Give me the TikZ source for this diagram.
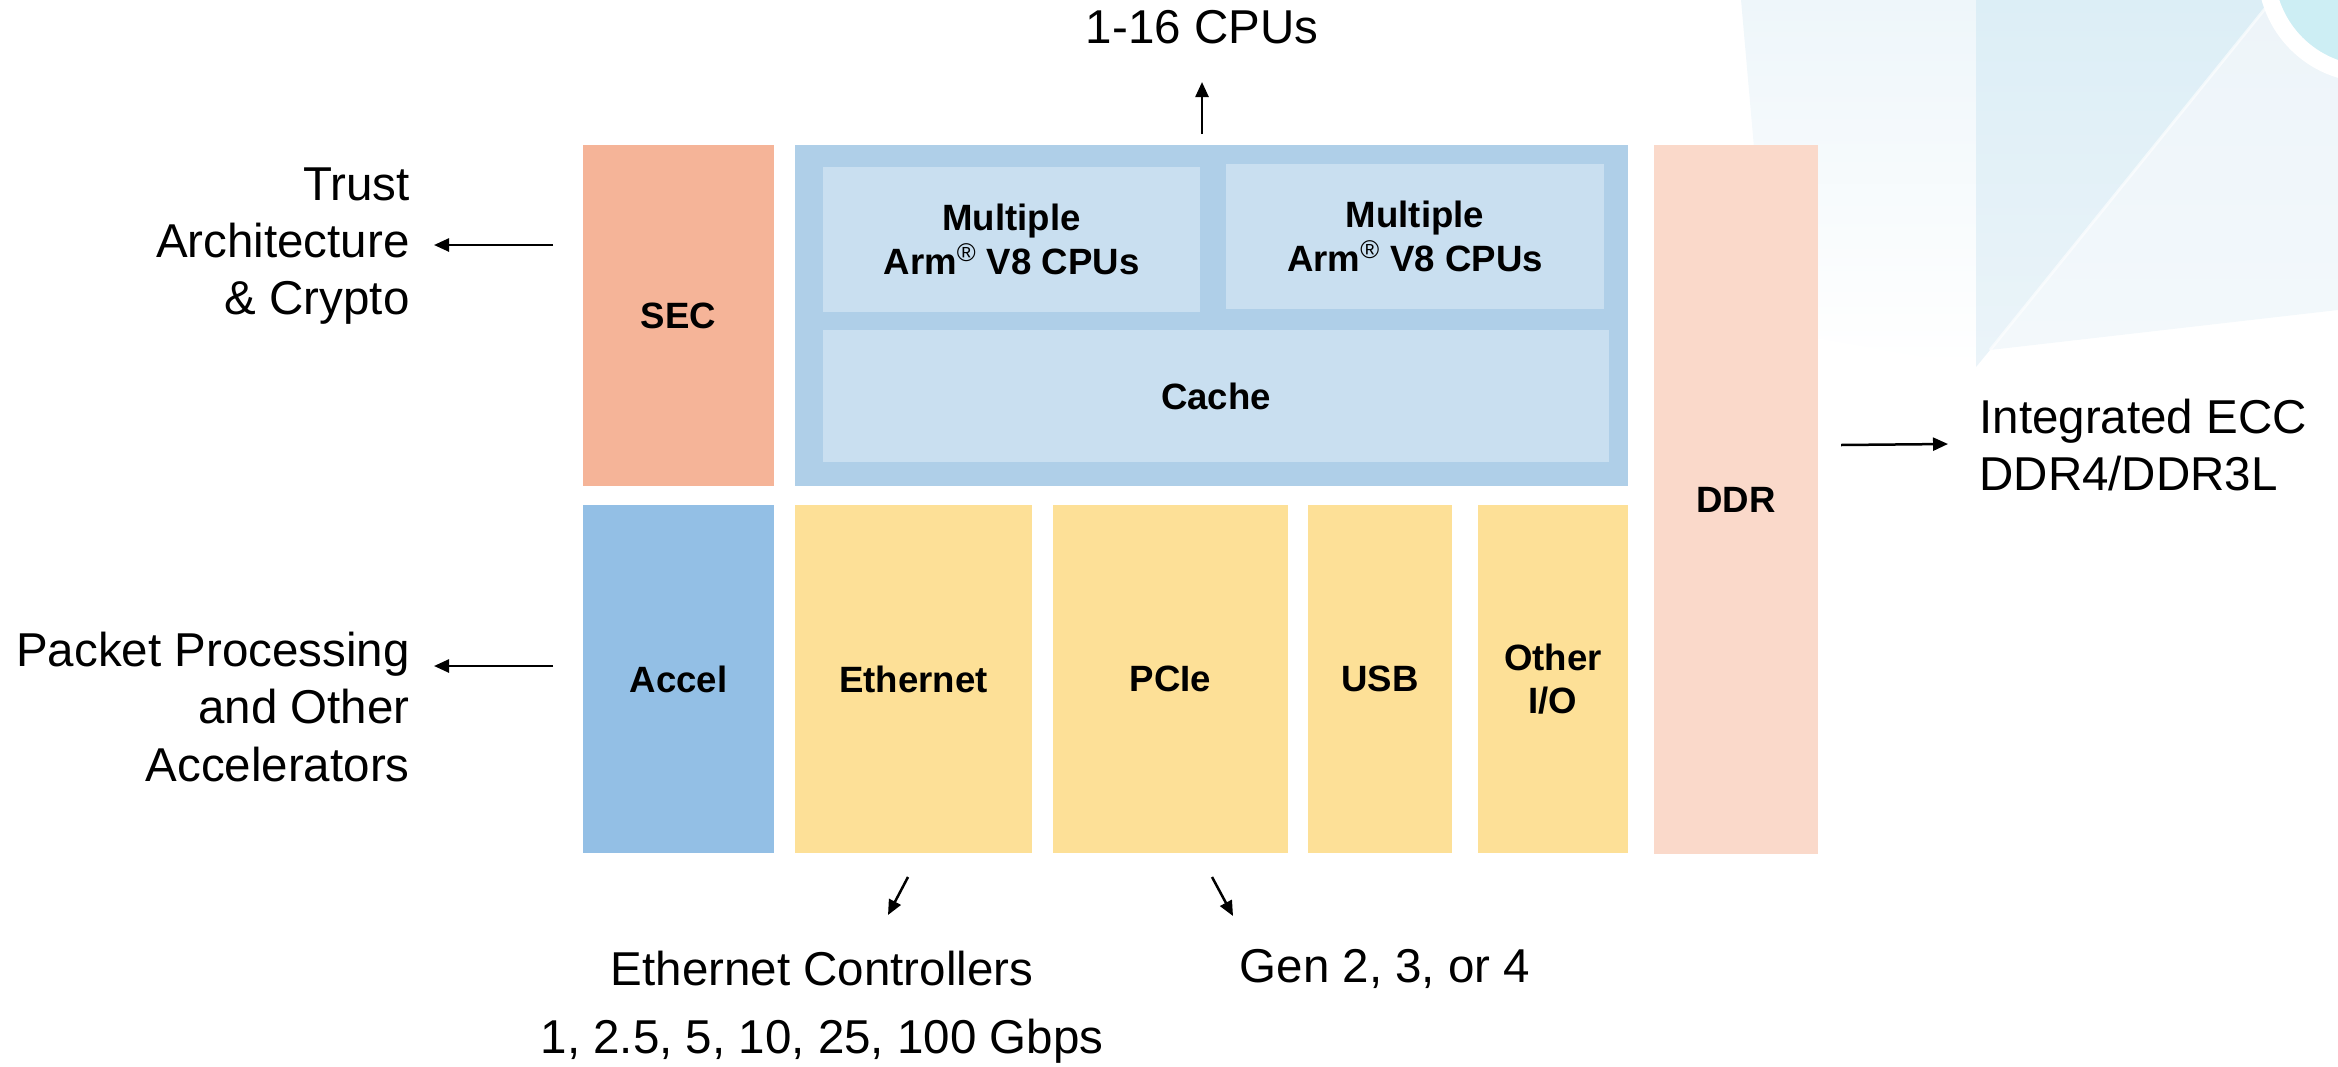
\documentclass[tikz,border=0pt]{standalone}
\usepackage{fontspec}
\setmainfont{Liberation Sans}
\usetikzlibrary{arrows.meta,fit,fadings}
\definecolor{secC}{HTML}{F5B498}
\definecolor{cpuOut}{HTML}{AFCFE8}
\definecolor{cpuIn}{HTML}{C9DFF0}
\definecolor{ddrC}{HTML}{FAD9CA}
\definecolor{accC}{HTML}{93BFE5}
\definecolor{ioC}{HTML}{FDE097}
\definecolor{bgA}{HTML}{DCEEF6}
\definecolor{bgB}{HTML}{EBF4F9}
\definecolor{bgC}{HTML}{EEF6FA}
\definecolor{bgD}{HTML}{EDF4F9}
\definecolor{ringC}{HTML}{CDEEF4}
\tikzset{
  blk/.style={inner sep=0pt, draw=none},
  btxt/.style={inner sep=0pt, align=center,
    font=\fontsize{18.3}{21.6}\selectfont\bfseries},
  lbl/.style={inner sep=0pt, font=\fontsize{23.75}{28.7}\selectfont},
  arr/.style={line width=1.25pt, -{Triangle[length=7.5pt,width=6.5pt]}},
}
\newcommand{\reg}{\textsuperscript{\mdseries ®}}
\begin{document}
\begin{tikzpicture}[x=0.5pt,y=-0.5pt]
\useasboundingbox (0,0) rectangle (2338,1066);
% faint background decoration
\fill[bgC, path fading=south] (1741,0) -- (1976,0) -- (1976,367) -- (1770,330) -- cycle;
\shade[top color=bgA, bottom color=bgB] (1976,0) -- (2272,0) -- (1990,350) -- (1976,367) -- cycle;
\shade[top color=bgD, bottom color=bgB!60!white] (2272,0) -- (2338,0) -- (2338,310) -- (1990,350) -- cycle;
\draw[white, line width=1.5pt, opacity=0.6] (2272,0) -- (1990,350);
\fill[ringC] (2370,-30) circle (104);
\draw[white, line width=8.5pt] (2370,-30) circle (104);
% blocks
\node[blk, fit={(583,145) (774,486)}, fill=secC] (sec) {};
\node[blk, fit={(795,145) (1628,486)}, fill=cpuOut] (cpu) {};
\node[blk, fit={(823,167) (1200,312)}, fill=cpuIn] (cpua) {};
\node[blk, fit={(1226,164) (1604,309)}, fill=cpuIn] (cpub) {};
\node[blk, fit={(823,330) (1609,462)}, fill=cpuIn] (cache) {};
\node[blk, fit={(1654,145) (1818,854)}, fill=ddrC] (ddr) {};
\node[blk, fit={(583,505) (774,853)}, fill=accC] (accel) {};
\node[blk, fit={(795,505) (1032,853)}, fill=ioC] (eth) {};
\node[blk, fit={(1053,505) (1288,853)}, fill=ioC] (pcie) {};
\node[blk, fit={(1308,505) (1452,853)}, fill=ioC] (usb) {};
\node[blk, fit={(1478,505) (1628,853)}, fill=ioC] (oio) {};
% block texts
\node[btxt] (secT) at (sec.center) {SEC};
\node[btxt] (cpuaT) at (cpua.center) {Multiple\\Arm\reg{} V8 CPUs};
\node[btxt] (cpubT) at (cpub.center) {Multiple\\Arm\reg{} V8 CPUs};
\node[btxt] (cacheT) at (cache.center) {Cache};
\node[btxt] (ddrT) at (ddr.center) {DDR};
\node[btxt] (accelT) at (accel.center) {Accel};
\node[btxt] (ethT) at (eth.center) {Ethernet};
\node[btxt] (pcieT) at (pcie.center) {PCIe};
\node[btxt] (usbT) at (usb.center) {USB};
\node[btxt] (oioT) at (oio.center) {Other\\I/O};
% outside labels
\node[lbl] (cpus) at (1202,27) {1-16 CPUs};
\node[lbl, anchor=east, align=right] (trust) at (410,246) {Trust\\Architecture\\\& Crypto};
\node[lbl, anchor=east, align=right] (pkt) at (410,707) {Packet Processing\\and Other\\Accelerators};
\node[lbl, anchor=west, align=left] (ecc) at (1979,445) {Integrated ECC\\DDR4/DDR3L};
\node[lbl] (ethc) at (822,969) {Ethernet Controllers};
\node[lbl] (gen) at (1385,969) {Gen 2, 3, or 4};
\node[lbl] (gbps) at (822,1041) {1, 2.5, 5, 10, 25, 100 Gbps};
% arrow end points
\coordinate (cpuS) at (1202,134); \coordinate (cpuE) at (1202,82);
\coordinate (trS) at (553,245); \coordinate (trE) at (434,245);
\coordinate (pkS) at (553,666); \coordinate (pkE) at (434,666);
\coordinate (ddS) at (1841,445); \coordinate (ddE) at (1948,444);
\coordinate (etS) at (908,877); \coordinate (etE) at (888,915);
\coordinate (pcS) at (1212,877); \coordinate (pcE) at (1233,916);
\draw[arr] (cpuS) -- (cpuE);
\draw[arr] (trS) -- (trE);
\draw[arr] (pkS) -- (pkE);
\draw[arr] (ddS) -- (ddE);
\draw[arr] (etS) -- (etE);
\draw[arr] (pcS) -- (pcE);
\end{tikzpicture}
\end{document}
